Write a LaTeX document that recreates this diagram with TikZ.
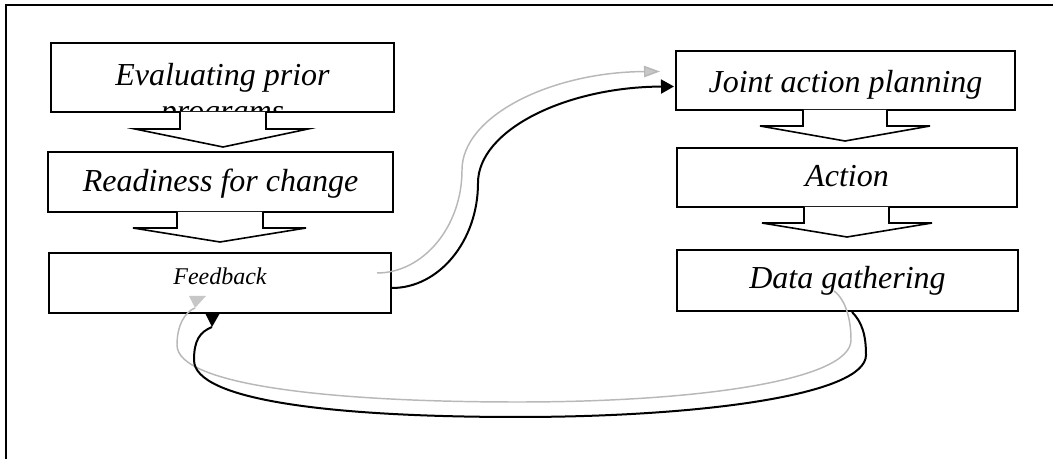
\documentclass[tikz,border=0pt]{standalone}
\usepackage{fontspec}
\setmainfont{Liberation Serif}
\usetikzlibrary{arrows.meta,fit,calc}
\begin{document}
\begin{tikzpicture}[x=0.75pt,y=-0.75pt,
  stagebox/.style={draw=black, line width=1.5pt, fill=white, inner sep=0pt},
  stagetext/.style={font=\itshape\fontsize{24}{27.6}\selectfont, anchor=base, inner sep=0pt},
  smalltext/.style={font=\itshape\fontsize{18}{21}\selectfont, anchor=base, inner sep=0pt},
  flowarrow/.style={draw=black, line width=1.2pt, fill=white, line join=miter},
  mainlink/.style={draw=black, line width=1.5pt},
  shadowlink/.style={draw=black!28, line width=1.1pt},
]
\useasboundingbox (0,0) rectangle (1053,459);
% page frame
\draw[line width=1.6pt] (6,459) -- (6,5) -- (1053,5);

% left column
\node[stagebox, fit={(51,43) (394,112)}] (eval) {};
\node[stagebox, fit={(48,152) (393,212)}] (ready) {};
\node[stagebox, fit={(49,253) (391,313)}] (fb) {};
% right column
\node[stagebox, fit={(676,51) (1015,110)}] (joint) {};
\node[stagebox, fit={(677,148) (1017,207)}] (act) {};
\node[stagebox, fit={(677,250) (1018,311)}] (data) {};

% labels (the two-line label is cut off by its box)
\begin{scope}
  \clip (eval.south west) rectangle (eval.north east);
  \node[stagetext, align=center] (evaltxt) at (222.5,122) {Evaluating prior\\programs};
\end{scope}
\node[stagetext] (readytxt) at (220.5,192) {Readiness for change};
\node[smalltext] (fbtxt) at (220,285) {Feedback};
\node[stagetext] (jointtxt) at (845.5,93) {Joint action planning};
\node[stagetext] (acttxt) at (847,187) {Action};
\node[stagetext] (datatxt) at (847.5,289) {Data gathering};

% block arrows between stages
\draw[flowarrow] (180,112) -- (180,129) -- (135,129) -- (223,147) -- (308,129) -- (266,129) -- (266,112);
\draw[flowarrow] (177,212) -- (177,228) -- (133,228) -- (220,242) -- (306,228) -- (263,228) -- (263,212);
\draw[flowarrow] (803,110) -- (803,126) -- (760,126) -- (845,141) -- (930,126) -- (887,126) -- (887,110);
\draw[flowarrow] (804,207) -- (804,223) -- (762,223) -- (847,237) -- (932,223) -- (889,223) -- (889,207);

% feedback -> joint action planning
\coordinate (fbout) at ($(fb.east)+(0,5)$);
\coordinate (fbshadow) at ($(fb.east)+(-15,-10)$);
\coordinate (jointin) at ($(joint.west)+(-1,6)$);
\coordinate (jointshadow) at ($(joint.west)+(-15,-9)$);
\draw[shadowlink, -{Triangle[length=12pt, width=8.5pt, fill=black!22]}]
  (fbshadow) .. controls (423,273) and (462,227) .. (462,170)
  .. controls (462,116) and (551,72) .. (jointshadow);
\draw[mainlink, -{Triangle[length=9.75pt, width=10.5pt]}]
  (fbout) .. controls (439,288) and (478,241) .. (478,183)
  .. controls (478,130) and (566,87) .. (jointin);

% data gathering -> feedback
\coordinate (dataout) at ($(data.south)+(4.5,0)$);
\coordinate (datashadow) at ($(data.south)+(-13.5,-21)$);
\coordinate (fbin) at ($(fb.south)+(-8,13)$);
\coordinate (fbshadowin) at ($(fb.south)+(-25,-6)$);
\draw[shadowlink]
  (datashadow) .. controls (846,300) and (851,320) .. (851,340)
  .. controls (851,380) and (700,402) .. (518,402)
  .. controls (330,402) and (177,385) .. (177,345)
  .. controls (177,325) and (185,312) .. (fbshadowin);
\fill[black!22] (189,296) -- (206,296) -- (fbshadowin) -- cycle;
\draw[mainlink]
  (dataout) .. controls (862,322) and (866,335) .. (866,355)
  .. controls (866,395) and (700,417) .. (518,417)
  .. controls (330,417) and (194,400) .. (194,360)
  .. controls (194,340) and (200,332) .. (fbin);
\fill[black] (205,313) -- (220,313) -- (fbin) -- cycle;
\end{tikzpicture}
\end{document}
